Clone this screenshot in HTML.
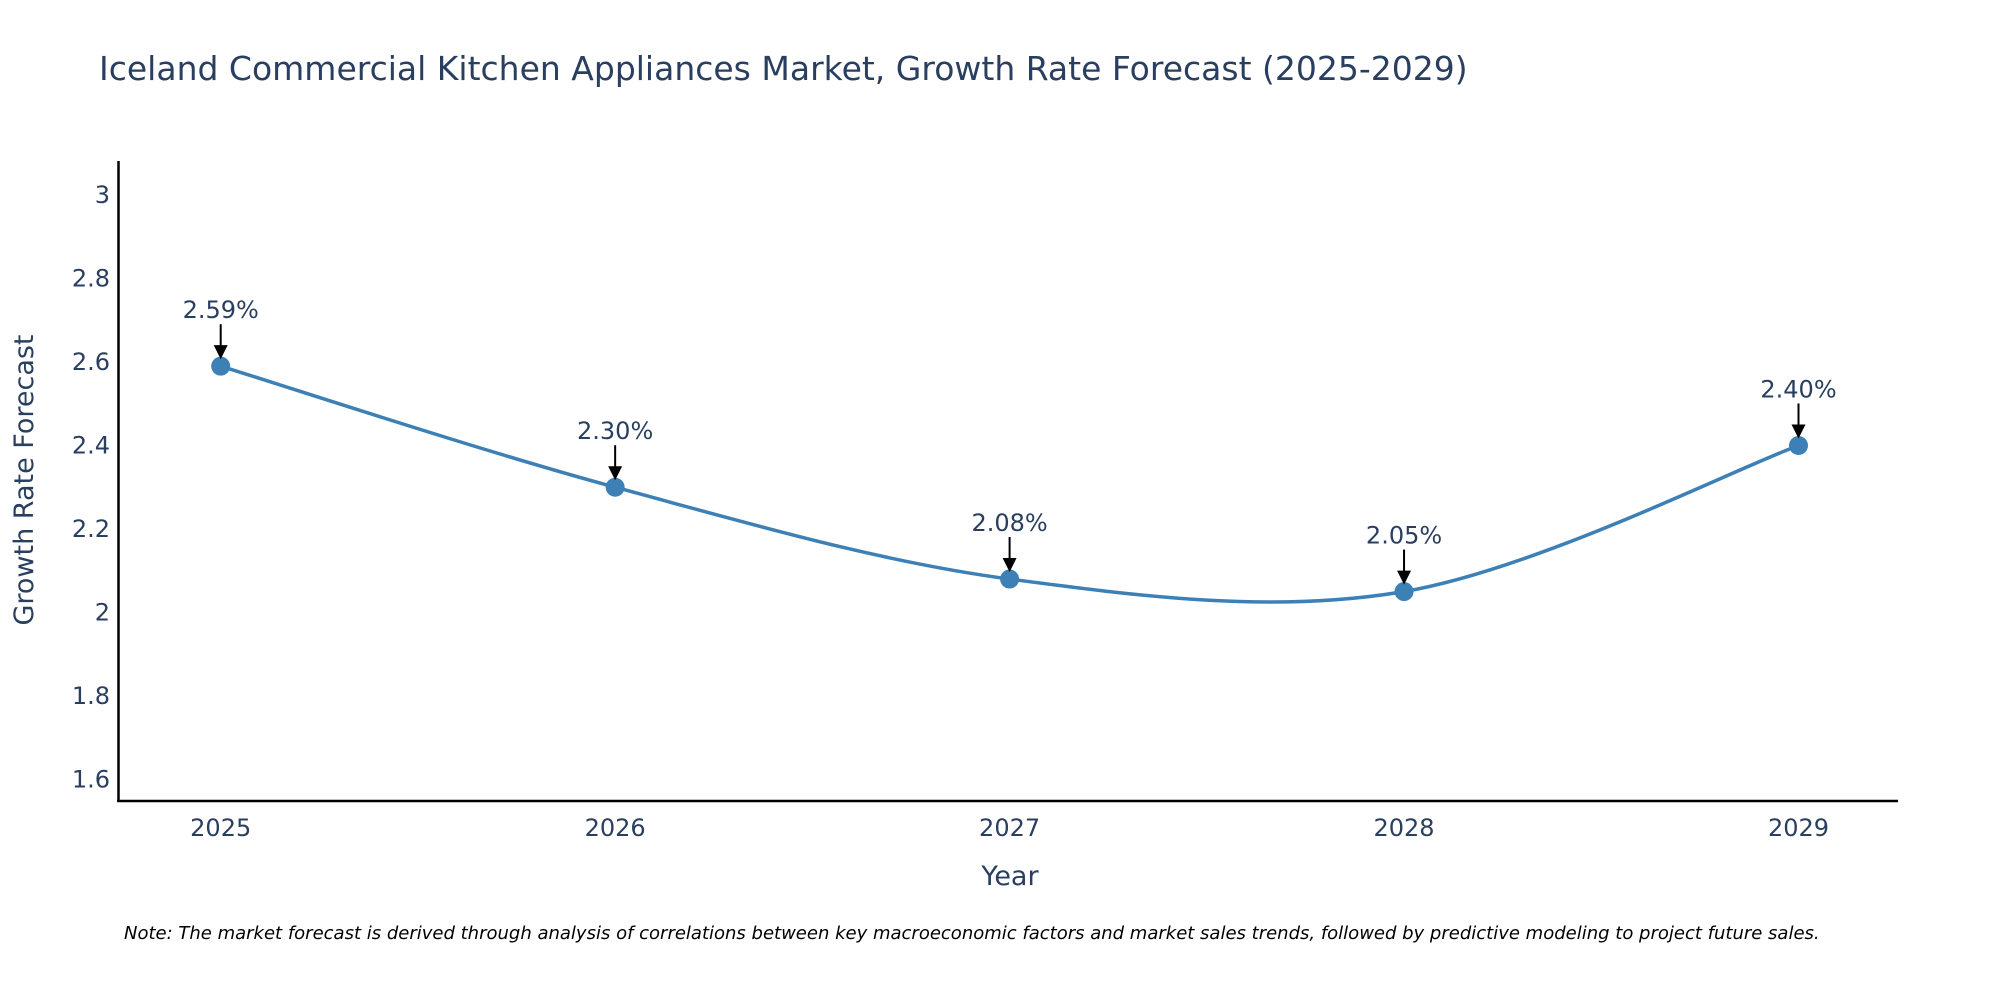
<!DOCTYPE html>
<html><head><meta charset="utf-8"><style>
html,body{margin:0;padding:0;background:#fff;}
svg{display:block;font-family:"DejaVu Sans","Liberation Sans",sans-serif;}
</style></head><body>
<svg id="chart" width="2000" height="1000" viewBox="0 0 2000 1000">
<text x="99" y="80" font-size="33" fill="#2a3f5f">Iceland Commercial Kitchen Appliances Market, Growth Rate Forecast (2025-2029)</text>
<g id="yticks"></g>
<g id="xticks"></g>
<line x1="118.5" y1="161" x2="118.5" y2="802" stroke="#000" stroke-width="2.5"/>
<line x1="117" y1="801" x2="1898" y2="801" stroke="#000" stroke-width="2.5"/>
<g id="series"></g>
<g id="annots"></g>
<text transform="translate(33,480) rotate(-90)" text-anchor="middle" font-size="27" fill="#2a3f5f">Growth Rate Forecast</text>
<text x="1010" y="885" text-anchor="middle" font-size="27" fill="#2a3f5f">Year</text>
<text x="124" y="939" font-size="18" font-style="italic" fill="#000">Note: The market forecast is derived through analysis of correlations between key macroeconomic factors and market sales trends, followed by predictive modeling to project future sales.</text>
</svg>
<script>
const years = ["2025","2026","2027","2028","2029"];
const values = [2.59, 2.30, 2.08, 2.05, 2.40];
const labels = ["2.59%","2.30%","2.08%","2.05%","2.40%"];
const yTicks = [1.6, 1.8, 2, 2.2, 2.4, 2.6, 2.8, 3];
const yTickLabels = ["1.6","1.8","2","2.2","2.4","2.6","2.8","3"];

const NS = "http://www.w3.org/2000/svg";
function xPos(i){ return 220.7 + i * (1798.5 - 220.7) / (years.length - 1); }
function yPos(v){ return 779.4 - (v - 1.6) * 417.4; }
function mk(tag, attrs, parent){ const e = document.createElementNS(NS, tag); for (const k in attrs) e.setAttribute(k, attrs[k]); parent.appendChild(e); return e; }

const yt = document.getElementById("yticks");
yTicks.forEach((v, i) => {
  const t = mk("text", {x: 110, y: yPos(v) + 8, "text-anchor": "end", "font-size": 24, fill: "#2a3f5f"}, yt);
  
  
  t.textContent = yTickLabels[i];
});
const xt = document.getElementById("xticks");
years.forEach((y, i) => {
  const t = mk("text", {x: xPos(i), y: 836, "text-anchor": "middle", "font-size": 24, fill: "#2a3f5f"}, xt);
  
  
  t.textContent = y;
});

const pts = values.map((v, i) => [xPos(i), yPos(v)]);
let d = "M" + pts[0][0] + "," + pts[0][1];
const s = 0.5;
for (let i = 0; i < pts.length - 1; i++) {
  const p0 = pts[Math.max(0, i - 1)], p1 = pts[i], p2 = pts[i + 1], p3 = pts[Math.min(pts.length - 1, i + 2)];
  const c1 = [p1[0] + (p2[0] - p0[0]) * s / 3, p1[1] + (p2[1] - p0[1]) * s / 3];
  const c2 = [p2[0] - (p3[0] - p1[0]) * s / 3, p2[1] - (p3[1] - p1[1]) * s / 3];
  d += " C" + c1 + " " + c2 + " " + p2;
}
const ser = document.getElementById("series");
const line = mk("path", {d: d, fill: "none", stroke: "#3d80b5", "stroke-width": 3.5}, ser);


pts.forEach(p => {
  const c = mk("circle", {cx: p[0], cy: p[1], r: 9.5, fill: "#3d80b5"}, ser);
  
  
});

const an = document.getElementById("annots");
pts.forEach((p, i) => {
  const l = mk("line", {x1: p[0], y1: p[1] - 42, x2: p[0], y2: p[1] - 20, stroke: "#000", "stroke-width": 2}, an);
  
  
  const h = mk("polygon", {points: (p[0]-7)+","+(p[1]-21)+" "+(p[0]+7)+","+(p[1]-21)+" "+p[0]+","+(p[1]-7), fill: "#000"}, an);
  
  
  const t = mk("text", {x: p[0], y: p[1] - 48, "text-anchor": "middle", "font-size": 24, fill: "#2a3f5f"}, an);
  
  
  t.textContent = labels[i];
});
</script>
</body></html>
